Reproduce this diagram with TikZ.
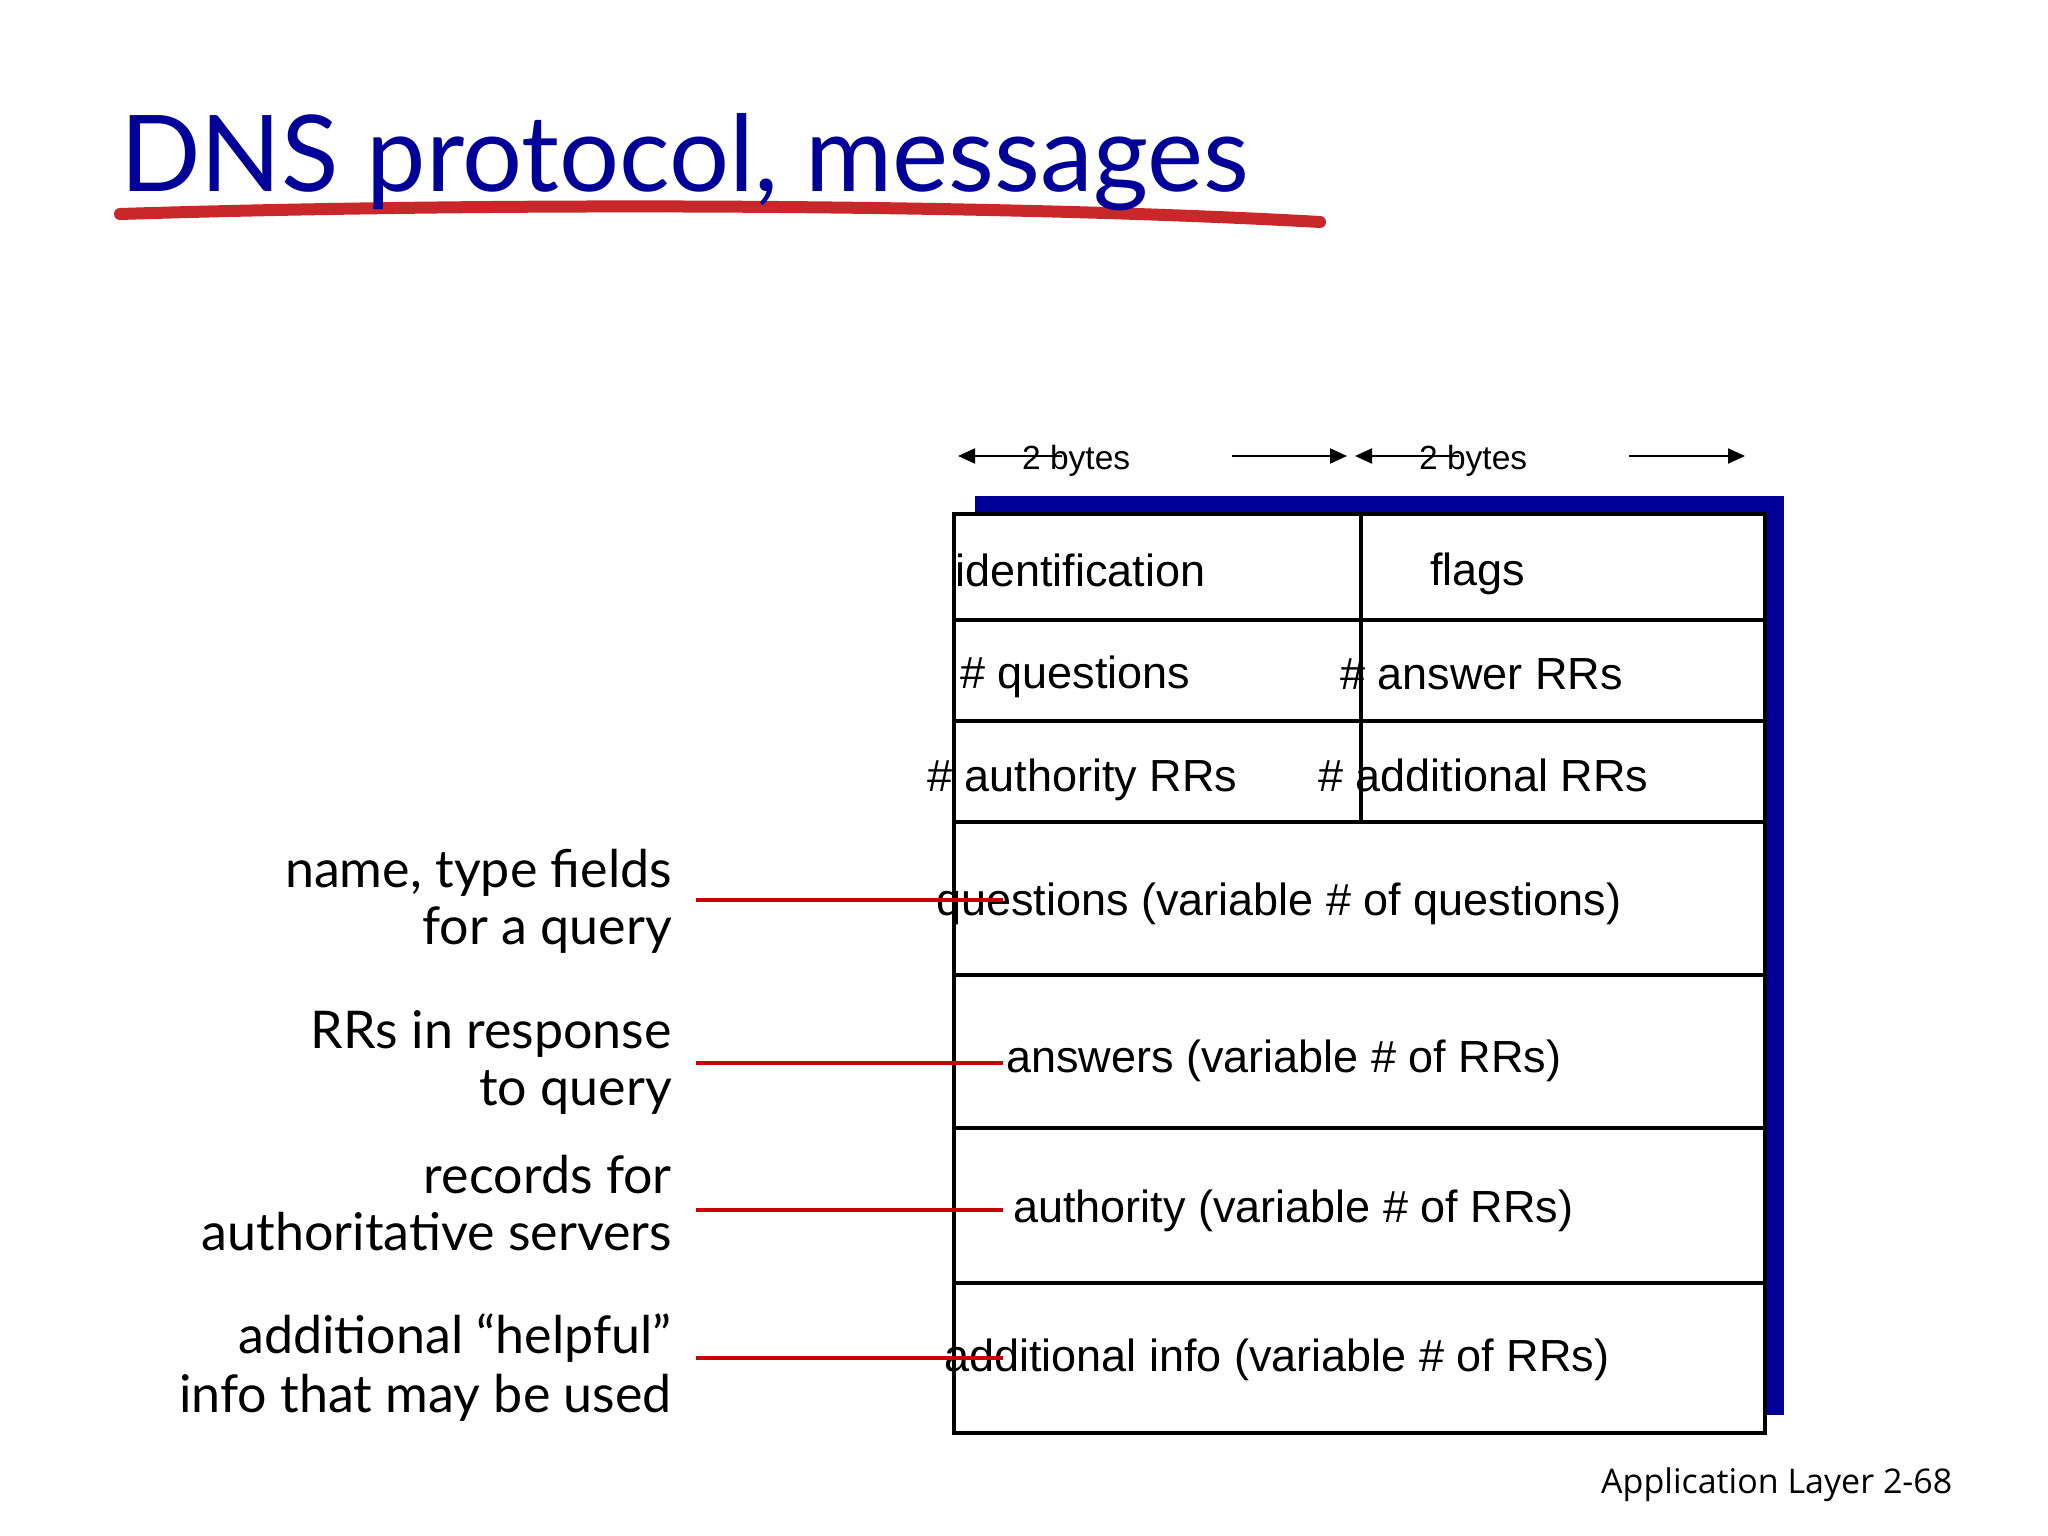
\documentclass[tikz,border=0pt]{standalone}
\usepackage{fontspec}
\setmainfont{Liberation Sans}
\newfontfamily\gillfont{Lato}
\newfontfamily\footfont{Open Sans}
\usetikzlibrary{arrows.meta}
\definecolor{titleblue}{RGB}{0,0,153}
\definecolor{shadowblue}{RGB}{0,0,153}
\definecolor{underred}{RGB}{200,40,42}
\definecolor{linkred}{RGB}{204,0,0}
\tikzstyle{field} = [anchor=base west, inner sep=0pt, font=\fontsize{45}{54}\selectfont]
\tikzstyle{note} = [anchor=base east, inner sep=0pt, font=\gillfont\fontsize{52}{58}\selectfont]
\tikzstyle{bytes label} = [anchor=base west, inner sep=0pt, font=\fontsize{33.5}{40}\selectfont]
\tikzstyle{table line} = [draw, line width=4.5pt]
\tikzstyle{byte arrow} = [draw, line width=2pt, -{Triangle[length=17pt,width=15pt]}]
\tikzstyle{link} = [draw, linkred, line width=4pt]

\begin{document}
\begin{tikzpicture}[x=1pt,y=-1pt]
       \useasboundingbox (0,0) rectangle (2048,1536);

       % title with its red stroke
       \draw[underred, line width=12pt, line cap=round] (120,214) .. controls (500,202) and (1000,204) .. (1320,222);
       \node[anchor=base west, inner sep=0pt, text=titleblue, font=\gillfont\fontsize{106}{120}\selectfont] (title) at (120,191) {DNS protocol, messages};

       % message box
       \fill[shadowblue] (975,496) rectangle (1784,1415);
       \path[table line, fill=white] (954,514) rectangle (1765,1433);
       \foreach \y in {620,721,822,975,1128,1283} {
           \path[table line] (954,\y) -- (1765,\y);
       }
       \path[table line] (1361,514) -- (1361,822);

       \foreach \x/\y/\name/\txt in {955/586/ident/identification, 1430/585/flags/flags,
           960/688/nquest/{\# questions}, 1340/689/nansw/{\# answer RRs},
           927/791/nauth/{\# authority RRs}, 1318/791/naddl/{\# additional RRs},
           936/915/quest/{questions (variable \# of questions)},
           1006/1072/answ/{answers (variable \# of RRs)},
           1013/1222/auth/{authority (variable \# of RRs)},
           944/1371/addl/{additional info (variable \# of RRs)}} {
           \node[field] (\name) at (\x,\y) {\txt};
       }

       % 2 bytes markers
       \foreach \x/\n in {1022/1, 1419/2} {
           \node[bytes label] (bytes\n) at (\x,469) {2 bytes};
       }
       \coordinate (bl1) at (958,456);  \coordinate (bm1) at (1062,456);
       \coordinate (br1) at (1232,456); \coordinate (be1) at (1347,456);
       \coordinate (bl2) at (1355,456); \coordinate (bm2) at (1459,456);
       \coordinate (br2) at (1629,456); \coordinate (be2) at (1745,456);
       \foreach \n in {1,2} {
           \path[byte arrow] (bm\n) -- (bl\n);
           \path[byte arrow] (br\n) -- (be\n);
       }

       % notes on the left
       \foreach \y/\name/\txt in {887/qa/{name, type fields}, 944/qb/{for a query},
           1048/aa/{RRs in response}, 1105/ab/{to query},
           1193/ra/{records for}, 1250/rb/{authoritative servers},
           1353/ia/{additional “helpful”}, 1412/ib/{info that may be used}} {
           \node[note] (\name) at (672,\y) {\txt};
       }

       \foreach \y/\n in {900/1, 1063/2, 1210/3, 1358/4} {
           \coordinate (ls\n) at (696,\y);
           \coordinate (le\n) at (1003,\y);
           \path[link] (ls\n) -- (le\n);
       }

       \node[anchor=base west, inner sep=0pt, font=\footfont\fontsize{34}{40}\selectfont] (footer) at (1601,1493) {Application Layer 2-68};
\end{tikzpicture}
\end{document}
